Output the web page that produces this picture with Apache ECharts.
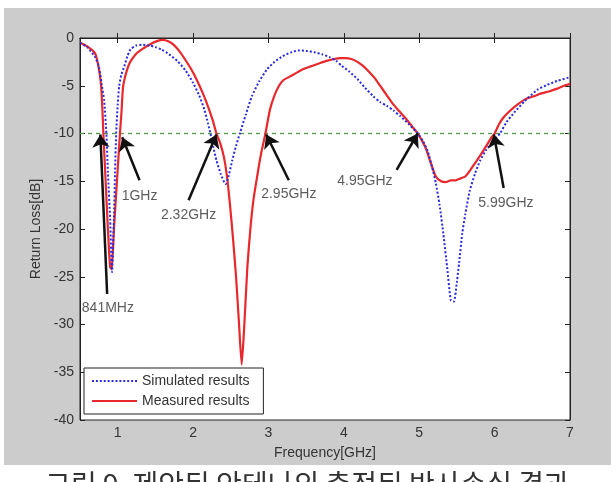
<!DOCTYPE html>
<html>
<head>
<meta charset="utf-8">
<script src="https://cdn.jsdelivr.net/npm/echarts@6/dist/echarts.min.js"></script>
<style>
    html, body { margin: 0; padding: 0; background: #ffffff; }
    #frame { position: absolute; left: 4px; top: 8px; width: 607px; height: 457px; background: #cccccc; }
    #chart { position: absolute; left: 0; top: 0; width: 615px; height: 482px; }
</style>
</head>
<body>
<div id="frame"></div>
<div id="chart"></div>
<script>
// 측정값 (Measured results): [주파수 GHz, 반사손실 dB]
const measured = [
    [0.5, -0.5], [0.6, -0.9], [0.7, -1.6], [0.75, -3.2], [0.78, -5], [0.8, -8], [0.81, -10],
    [0.84, -15], [0.87, -20], [0.9, -24], [0.92, -24.2], [0.95, -20], [0.97, -17.5], [0.99, -15],
    [1.01, -12.5], [1.03, -10], [1.05, -7.8], [1.07, -5.2], [1.1, -4], [1.16, -2.6], [1.24, -1.7],
    [1.32, -1.2], [1.42, -0.7],
    [1.53, -0.3], [1.6, -0.2], [1.67, -0.35], [1.74, -0.7], [1.82, -1.4], [1.89, -2.2], [1.97, -3.2],
    [2.05, -4.4], [2.13, -5.8], [2.2, -7.2], [2.26, -8.6], [2.31, -10], [2.36, -11], [2.41, -12.5],
    [2.45, -14.5], [2.49, -17.5], [2.53, -21], [2.57, -25], [2.61, -30], [2.645, -34.2], [2.68, -30],
    [2.72, -24], [2.76, -20], [2.8, -17], [2.85, -14.5], [2.9, -12.2], [2.96, -10], [3.02, -7.5],
    [3.08, -6], [3.14, -5], [3.2, -4.4], [3.27, -4.1], [3.36, -3.7], [3.45, -3.3], [3.55, -3],
    [3.66, -2.7], [3.77, -2.4], [3.87, -2.2], [3.95, -2.1], [4.02, -2.1], [4.1, -2.2], [4.18, -2.5],
    [4.25, -2.9], [4.33, -3.5], [4.41, -4.2], [4.49, -5.1], [4.57, -6], [4.65, -6.9], [4.74, -7.7],
    [4.83, -8.5], [4.9, -9.2], [4.98, -10], [5.04, -10.8], [5.09, -11.6], [5.15, -13], [5.22, -14.5],
    [5.29, -15], [5.35, -15.1], [5.42, -14.9], [5.48, -14.9], [5.55, -14.7], [5.61, -14.5],
    [5.68, -13.8], [5.74, -13.1], [5.81, -12.3], [5.89, -11.3], [5.95, -10.5], [6.0, -10], [6.06, -9],
    [6.12, -8.3], [6.18, -7.8], [6.28, -7.1], [6.41, -6.4], [6.52, -6.1], [6.62, -5.8], [6.72, -5.6],
    [6.83, -5.3], [6.92, -5.0], [7.0, -4.8]
];

// 시뮬레이션 값 (Simulated results)
const simulated = [
    [0.5, -0.5], [0.6, -1.0], [0.7, -2], [0.75, -3], [0.79, -5], [0.82, -6.5], [0.85, -10],
    [0.87, -14], [0.9, -19], [0.925, -24.5], [0.95, -19], [0.965, -14], [0.98, -10], [1.0, -7],
    [1.02, -5], [1.05, -3.8], [1.09, -2.9], [1.13, -1.9], [1.17, -1.2], [1.24, -0.8], [1.32, -0.7],
    [1.43, -0.8], [1.5, -0.95], [1.58, -1.2], [1.68, -1.7], [1.79, -2.4], [1.9, -3.4], [2.0, -4.7],
    [2.08, -6], [2.15, -7.5], [2.2, -9], [2.23, -10], [2.27, -11.5], [2.31, -12.8], [2.37, -14.3],
    [2.43, -15.3], [2.47, -14.5], [2.52, -12.8], [2.57, -11.3], [2.62, -10], [2.7, -8], [2.78, -6.1],
    [2.88, -4.5], [2.98, -3.3], [3.08, -2.5], [3.19, -1.9], [3.3, -1.5], [3.4, -1.3], [3.5, -1.35],
    [3.61, -1.5], [3.71, -1.7], [3.81, -2], [3.9, -2.4], [3.97, -2.9], [4.07, -3.5], [4.18, -4.3],
    [4.28, -5.2], [4.39, -6.1], [4.48, -6.7], [4.57, -7.1], [4.66, -7.6], [4.75, -8.2], [4.86, -9],
    [4.98, -10], [5.05, -10.8], [5.11, -11.8], [5.17, -13.5], [5.22, -15.2], [5.27, -17.5],
    [5.32, -20.5], [5.37, -24], [5.42, -27.5], [5.46, -27.6], [5.5, -25.5], [5.53, -23.5],
    [5.57, -20.5], [5.61, -18.5], [5.67, -16], [5.74, -14.2], [5.81, -12.8], [5.89, -11.7],
    [5.98, -10.8], [6.07, -10], [6.16, -8.8], [6.26, -7.8], [6.4, -6.6], [6.57, -5.4], [6.7, -4.9],
    [6.83, -4.5], [7.0, -4.1]
];

// -10 dB 기준선
const reference = [[0.5, -10], [7, -10]];

// 축 눈금
const xTicks = [1, 2, 3, 4, 5, 6, 7];
const yTicks = [0, -5, -10, -15, -20, -25, -30, -35, -40];

// 화살표 주석: 꼬리 -> 머리, 글자 위치
const noteLabels = ["841MHz", "1GHz", "2.32GHz", "2.95GHz", "4.95GHz", "5.99GHz"];
const noteTails = [[0.86, -26.8], [1.29, -14.9], [1.94, -17], [3.27, -14.9], [4.7, -13.8], [6.12, -15.7]];
const noteHeads = [[0.77, -10.1], [1.06, -10.4], [2.31, -10.1], [2.97, -10.1], [4.98, -10], [5.99, -10.1]];
const noteTextPos = [[0.87, -28.3], [1.29, -16.6], [1.94, -18.6], [3.27, -16.3], [4.28, -15.0], [6.15, -17.3]];

const textColor = "#333333";
const fontFamily = "Liberation Sans, Arial, sans-serif";

// 범례 아이콘: 점선 / 실선
let dottedIcon = "path://";
for (let x = 0; x < 45; x += 4) dottedIcon += `M${x},0h2v2h-2z`;
const solidIcon = "path://M0,0h45v2h-45z";

const chart = echarts.init(document.getElementById("chart"), null, { renderer: "canvas" });

const axisCommon = {
    type: "value",
    axisLine: { show: true, lineStyle: { color: "#222222", width: 1 } },
    splitLine: { show: false },
    axisTick: { show: true, inside: true, length: 5, lineStyle: { color: "#222222" } }
};

chart.setOption({
    animation: false,
    textStyle: { fontFamily: fontFamily },
    grid: {
        left: 80, top: 38, width: 490, height: 382,
        show: true, backgroundColor: "#ffffff", borderColor: "#222222", borderWidth: 1
    },
    legend: {
        data: [
            { name: "Simulated results", icon: dottedIcon },
            { name: "Measured results", icon: solidIcon }
        ],
        orient: "vertical",
        left: 84, top: 368,
        itemWidth: 45, itemHeight: 2.5, itemGap: 6,
        padding: [6, 14, 6, 8],
        backgroundColor: "#ffffff",
        borderColor: "#222222", borderWidth: 1, borderRadius: 0,
        textStyle: { color: textColor, fontSize: 14, fontFamily: fontFamily }
    },
    xAxis: [
        {
            ...axisCommon,
            min: 0.5, max: 7,
            name: "Frequency[GHz]", nameLocation: "middle", nameGap: 26,
            nameTextStyle: { color: textColor, fontSize: 14 },
            axisTick: { ...axisCommon.axisTick, customValues: xTicks },
            axisLabel: { color: textColor, fontSize: 14, margin: 6, customValues: xTicks }
        },
        {
            ...axisCommon,
            position: "top",
            min: 0.5, max: 7,
            axisTick: { ...axisCommon.axisTick, customValues: xTicks },
            axisLabel: { show: false }
        }
    ],
    yAxis: [
        {
            ...axisCommon,
            min: -40, max: 0, interval: 5,
            name: "Return Loss[dB]", nameLocation: "middle", nameGap: 34,
            nameTextStyle: { color: textColor, fontSize: 14 },
            axisTick: { ...axisCommon.axisTick, customValues: yTicks },
            axisLabel: { color: textColor, fontSize: 14, margin: 6, customValues: yTicks }
        },
        {
            ...axisCommon,
            position: "right",
            min: -40, max: 0, interval: 5,
            axisTick: { ...axisCommon.axisTick, customValues: yTicks },
            axisLabel: { show: false }
        }
    ],
    series: [
        {
            name: "-10dB",
            type: "line",
            data: reference,
            symbol: "none",
            silent: true,
            lineStyle: { color: "#4e9a4e", width: 1.3, type: [4, 4] },
            z: 1
        },
        {
            name: "Simulated results",
            type: "line",
            data: simulated,
            symbol: "none",
            smooth: 0.2,
            color: "#2a2ae0",
            lineStyle: { color: "#2a2ae0", width: 2, type: [2, 2] },
            z: 3
        },
        {
            name: "Measured results",
            type: "line",
            data: measured,
            symbol: "none",
            smooth: 0.2,
            color: "#e8282c",
            lineStyle: { color: "#e8282c", width: 2.2 },
            z: 2
        },
        {
            name: "arrows",
            type: "lines",
            coordinateSystem: "cartesian2d",
            polyline: false,
            silent: true,
            symbol: ["none", "arrow"],
            symbolSize: 13,
            lineStyle: { color: "#111111", width: 2.5, opacity: 1 },
            data: noteTails.map((tail, i) => ({ coords: [tail, noteHeads[i]] })),
            z: 5
        },
        {
            name: "notes",
            type: "scatter",
            silent: true,
            symbolSize: 0,
            data: noteTextPos.map((pos, i) => ({ value: pos, name: noteLabels[i] })),
            label: {
                show: true,
                position: "inside",
                formatter: p => p.name,
                color: textColor,
                fontSize: 14,
                fontFamily: fontFamily
            },
            z: 6
        }
    ],
    graphic: [
        {
            type: "text",
            left: "center",
            top: 470,
            style: {
                text: "그림 9. 제안된 안테나의 측정된 반사손실 결과",
                fill: textColor,
                font: "28px 'Noto Sans CJK KR'"
            }
        }
    ]
});
</script>
</body>
</html>
